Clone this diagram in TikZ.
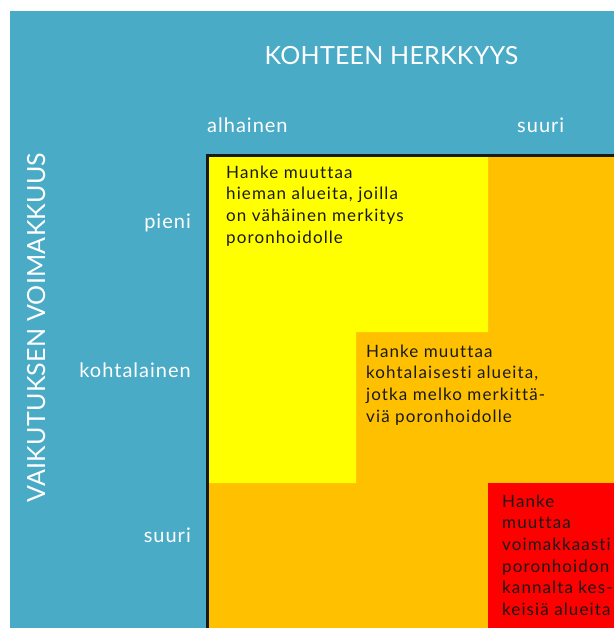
\documentclass[tikz,border=0pt]{standalone}
\usepackage{fontspec}
\setmainfont{Lato}
\newfontfamily\labfont[LetterSpace=5,Ligatures=NoCommon]{Lato}
\newfontfamily\cellfont[LetterSpace=6.5,Ligatures=NoCommon]{Lato}
\newfontfamily\titfont[LetterSpace=1,Ligatures=NoCommon]{Lato}
\definecolor{teal}{HTML}{4AABC6}
\definecolor{cyel}{HTML}{FFFF00}
\definecolor{corange}{HTML}{FFC000}
\definecolor{cred}{HTML}{FF0000}
\definecolor{ctext}{HTML}{1A1A1A}
\begin{document}
\begin{tikzpicture}[x=1pt,y=-1pt,
  axislabel/.style={text=white,font=\labfont\fontsize{20}{24}\selectfont,inner sep=0pt},
  title/.style={text=white,font=\titfont\fontsize{25}{30}\selectfont,inner sep=0pt},
  cell/.style={text=ctext,font=\cellfont\fontsize{17}{21.7}\selectfont,align=left,inner sep=0pt,anchor=base west}]
\useasboundingbox (0,0) rectangle (614,628);
\fill[white] (0,0) rectangle (614,628);
\fill[teal] (10,11) rectangle (614,628);
% matrix regions
\fill[corange] (208,156) rectangle (614,628);
\fill[cyel] (208,156) -- (488,156) -- (488,332) -- (356,332) -- (356,483) -- (208,483) -- cycle;
\fill[cred] (488,483) rectangle (614,628);
\coordinate (bl) at (207.5,628);
\coordinate (tl) at (207.5,155.5);
\coordinate (tr) at (614,155.5);
\draw[line width=3pt,black!90] (bl) -- (tl) -- (tr);
% titles
\node[title,anchor=base] (ttop) at (391.5,65) {KOHTEEN HERKKYYS};
\node[title,anchor=base,rotate=90] (tleft) at (45,327.5) {VAIKUTUKSEN VOIMAKKUUS};
% axis labels
\node[axislabel,anchor=base west] (xlow) at (207,133) {alhainen};
\node[axislabel,anchor=base west] (xhigh) at (517,133) {suuri};
\node[axislabel,anchor=base east] (ylow) at (191,228) {pieni};
\node[axislabel,anchor=base east] (ymid) at (191,377) {kohtalainen};
\node[axislabel,anchor=base east] (yhigh) at (191,542) {suuri};
% cell texts (anchored at the baseline of the last line)
\node[cell] (c1) at (226,243.1) {Hanke muuttaa\\hieman alueita, joilla\\on vähäinen merkitys\\poronhoidolle};
\node[cell] (c2) at (366,422.1) {Hanke muuttaa\\kohtalaisesti alueita,\\jotka melko merkittä-\\viä poronhoidolle};
\node[cell] (c3) at (502,615.5) {Hanke\\muuttaa\\voimakkaasti\\poronhoidon\\kannalta kes-\\keisiä alueita};
\end{tikzpicture}
\end{document}
